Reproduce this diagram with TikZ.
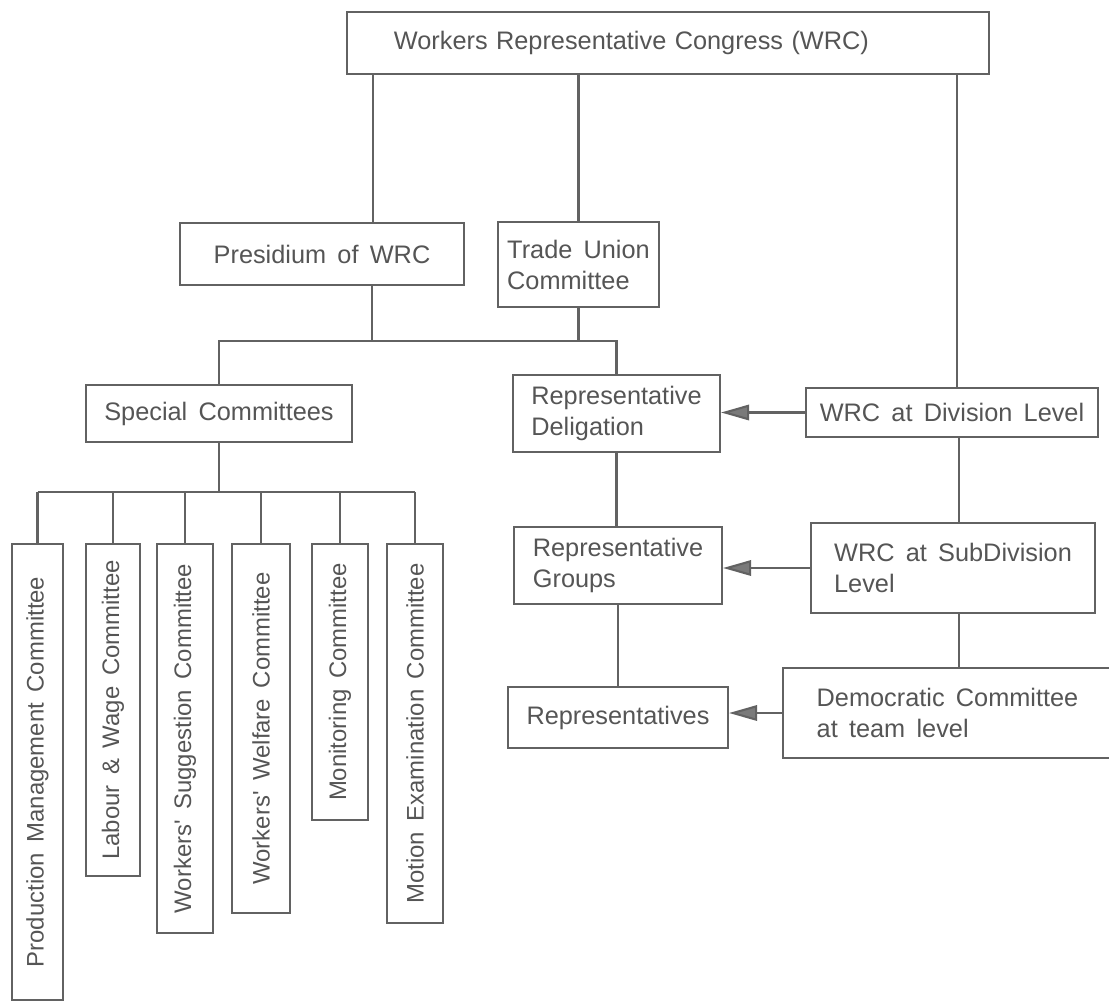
\documentclass[tikz,border=0pt]{standalone}
\usepackage{fontspec}
\setmainfont{Liberation Sans}[Ligatures=TeXOff, WordSpace=1.6]
\usetikzlibrary{arrows.meta}

\definecolor{linegray}{HTML}{626262}
\definecolor{textgray}{HTML}{555555}
\definecolor{tipgray}{HTML}{7A7A7A}

\tikzset{
  unit/.style 2 args={minimum width=#1*0.025cm, minimum height=#2*0.025cm},
  box/.style={draw=linegray, line width=1.5pt, rectangle, inner sep=0pt, align=left,
    text=textgray, font=\fontsize{18}{22}\selectfont},
  vbox/.style={box, rotate=90, font=\fontsize{17}{21}\selectfont},
  link/.style={draw=linegray, line width=1.5pt},
  feed/.style={link, -{Triangle[length=20pt,width=11pt,fill=tipgray]}},
}

\begin{document}
\begin{tikzpicture}[x=0.025cm,y=-0.025cm]
  \useasboundingbox (0,0) rectangle (1109,1004);

  % upper levels
  \node[box, unit={642}{62}, text width=13.7cm] (wrc) at (668,43) {Workers Representative Congress (WRC)};
  \node[box, unit={284}{62}] (pres) at (322,254) {Presidium of WRC};
  \node[box, unit={161}{85}] (tu) at (578.5,264.5) {Trade Union\\Committee};
  \node[box, unit={266}{57}] (spc) at (219,413.5) {Special Committees};
  \node[box, unit={207}{77}] (rdel) at (616.5,413.5) {Representative\\Deligation};
  \node[box, unit={292}{49}] (div) at (952,412.5) {WRC at Division Level};
  \node[box, unit={208}{77}] (rgrp) at (618,565.5) {Representative\\Groups};
  \node[box, unit={284}{90}] (sub) at (953,568) {WRC at SubDivision\\Level};
  \node[box, unit={220}{61}] (reps) at (618,717.5) {Representatives};
  \node[box, unit={329}{90}] (dem) at (947.5,713) {Democratic Committee\\at team level};

  % special committees
  \node[vbox, unit={456}{51}] (pm) at (37.5,772) {Production Management Committee};
  \node[vbox, unit={332}{54}] (lw) at (113,710) {Labour \& Wage Committee};
  \node[vbox, unit={389}{56}] (ws) at (185,738.5) {Workers' Suggestion Committee};
  \node[vbox, unit={369}{58}] (ww) at (261,728.5) {Workers' Welfare Committee};
  \node[vbox, unit={276}{56}] (mon) at (340,682) {Monitoring Committee};
  \node[vbox, unit={379}{56}] (me) at (415,733.5) {Motion Examination Committee};

  \coordinate (lcol) at (373,0);
  \coordinate (rcol) at (957,0);
  \coordinate (scol) at (959,0);
  \coordinate (pbus) at (372,341);
  \coordinate (sbus) at (219,492);

  \draw[link] (wrc.south -| lcol) -- (pres.north -| lcol);
  \draw[link] (wrc.south -| tu.north) -- (tu.north);
  \draw[link] (wrc.south -| rcol) -- (div.north -| rcol);

  \draw[link] (pres.south -| pbus) -- (pbus);
  \draw[link] (tu.south) -- (tu.south |- pbus);
  \draw[link] (spc.north) |- (pbus) -| (rdel.north);

  \draw[link] (spc.south) -- (sbus);
  \draw[link] (pm.east |- sbus) -- (me.east |- sbus);
  \foreach \c in {pm,lw,ws,ww,mon,me}
    \draw[link] (\c.east |- sbus) -- (\c.east);

  \draw[link] (rdel.south) -- (rdel.south |- rgrp.north);
  \draw[link] (rgrp.south) -- (reps.north);
  \draw[link] (div.south -| scol) -- (sub.north -| scol);
  \draw[link] (sub.south -| scol) -- (dem.north -| scol);

  \draw[feed] (div.west) -- (rdel.east |- div.west);
  \draw[feed] (sub.west) -- (rgrp.east |- sub.west);
  \draw[feed] (dem.west) -- (reps.east |- dem.west);
\end{tikzpicture}
\end{document}
